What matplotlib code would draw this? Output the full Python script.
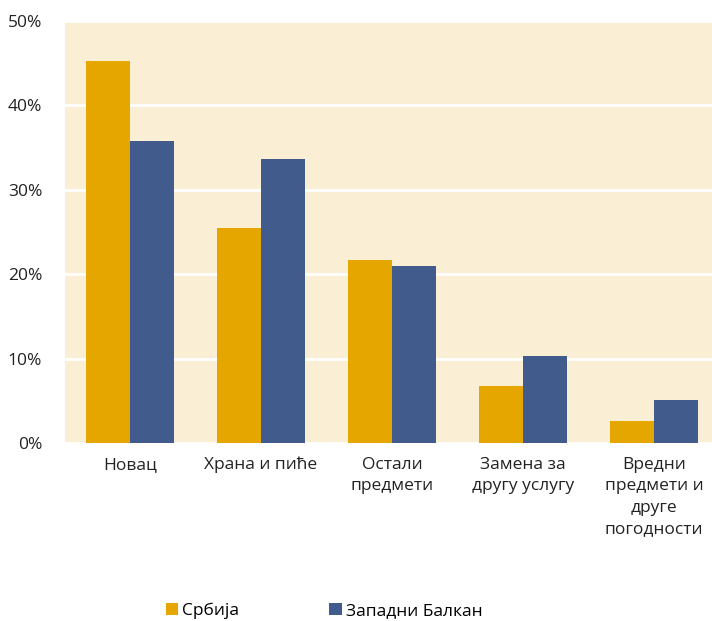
import numpy as np
import matplotlib.pyplot as plt

categories = ['Новац', 'Храна и пиће', 'Остали\nпредмети', 'Замена за\nдругу услугу',
              'Вредни\nпредмети и\nдруге\nпогодности']
srbija = [45.3, 25.5, 21.7, 6.7, 2.6]
zb = [35.8, 33.6, 21.0, 10.3, 5.1]
yticks = [0, 10, 20, 30, 40, 50]

plt.rcParams['font.family'] = ['Open Sans', 'DejaVu Sans']

fig = plt.figure(figsize=(7.12, 6.21), dpi=100)
ax = fig.add_axes([64.5/712, 178/621, 655/712, 422/621])
ax.set_facecolor('#FAEED5')

x = np.arange(len(categories))
w = 0.336
ax.bar(x - w/2, srbija, w, color='#E5A600', label='Србија', zorder=3)
ax.bar(x + w/2, zb, w, color='#415B8C', label='Западни Балкан', zorder=3)

ax.set_xlim(-0.5, len(categories) - 0.5)
ax.set_ylim(0, 50)
ax.set_yticks(yticks)
ax.set_yticklabels([f'{t}%' for t in yticks], fontsize=12.5, color='#222222')
ax.set_xticks(x)
ax.set_xticklabels(categories, fontsize=12.5, color='#222222', linespacing=1.45)
ax.tick_params(axis='both', length=0)
ax.tick_params(axis='y', pad=16)
ax.tick_params(axis='x', pad=10)
ax.yaxis.grid(True, color='white', linewidth=2, zorder=1)
for s in ax.spines.values():
    s.set_visible(False)

fig.legend(loc='lower left', bbox_to_anchor=(150/712, -0.022), ncol=2, frameon=False,
           fontsize=12.5, handlelength=0.7, handleheight=0.7, handletextpad=0.25,
           columnspacing=5.2)

fig.savefig('out.png', dpi=100)
